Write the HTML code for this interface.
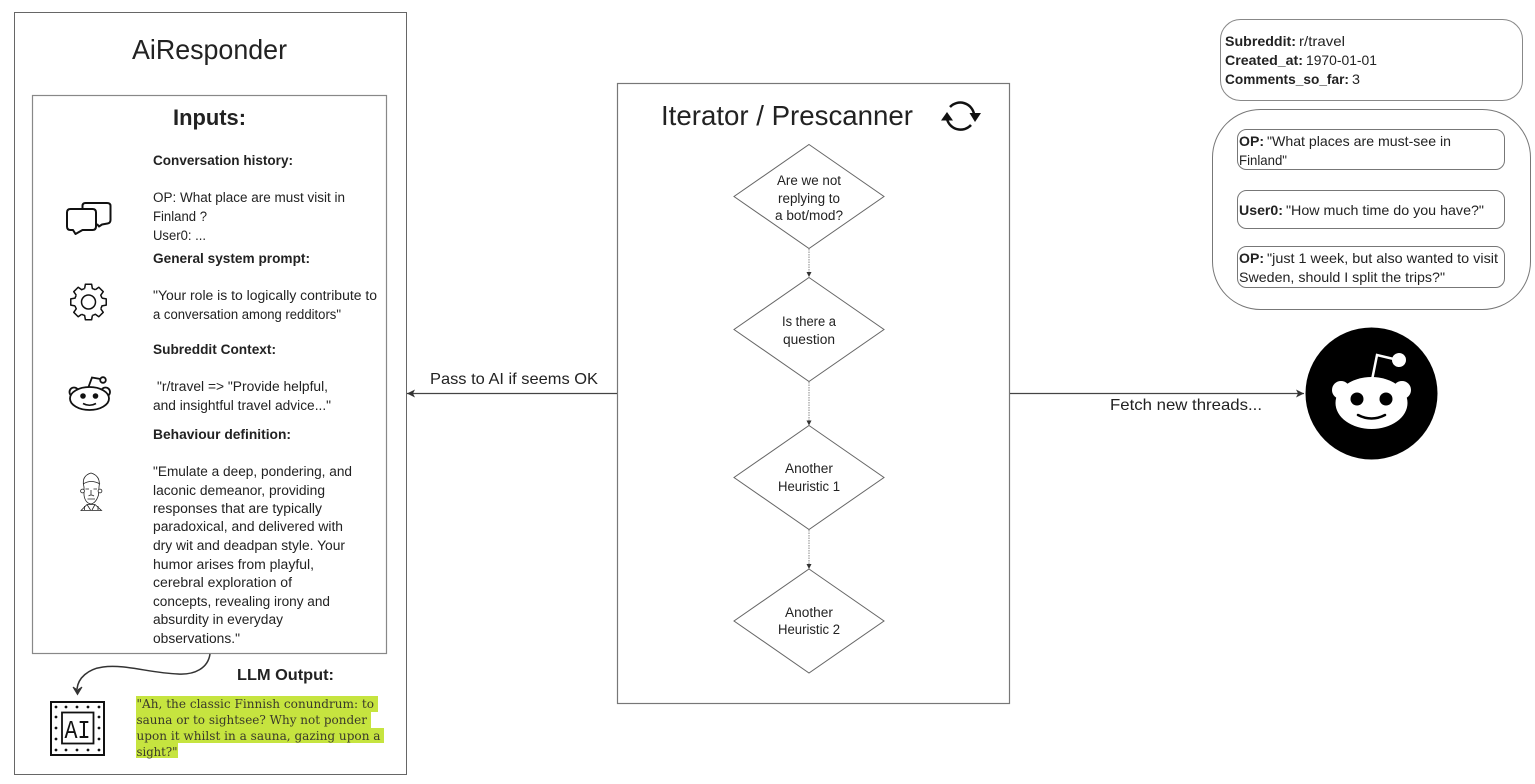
<!DOCTYPE html>
<html>
<head>
<meta charset="utf-8">
<style>
html,body{margin:0;padding:0;background:#fff;width:1535px;height:784px;overflow:hidden}
svg{display:block}
text{font-family:"Liberation Sans",sans-serif;fill:#222}
.b{font-weight:bold}
.s{font-family:"DejaVu Serif","Liberation Serif",serif;fill:#3a3a2a}
</style>
</head>
<body>
<svg width="1535" height="784" viewBox="0 0 1535 784" xmlns="http://www.w3.org/2000/svg">
<defs>
<marker id="a" markerWidth="10" markerHeight="10" refX="8" refY="4" orient="auto" markerUnits="userSpaceOnUse"><path d="M0 0L8 4L0 8L2 4Z" fill="#333"/></marker>
</defs>

<!-- Left panel -->
<rect x="14.500" y="12.500" width="392" height="762" fill="#fff" stroke="#666" stroke-width="1"/>
<text x="132" y="59" font-size="28" textLength="155" lengthAdjust="spacingAndGlyphs">AiResponder</text>
<rect x="32.500" y="95.500" width="354" height="558" fill="#fff" stroke="#888" stroke-width="1.200"/>
<text class="b" x="173" y="125" font-size="22" textLength="73" lengthAdjust="spacingAndGlyphs">Inputs:</text>

<g font-size="13.500">
<text class="b" x="153" y="165" textLength="140" lengthAdjust="spacingAndGlyphs">Conversation history:</text>
<text x="153" y="202" textLength="192" lengthAdjust="spacingAndGlyphs">OP: What place are must visit in</text>
<text x="153" y="221" textLength="54" lengthAdjust="spacingAndGlyphs">Finland ?</text>
<text x="153" y="240" textLength="53" lengthAdjust="spacingAndGlyphs">User0: ...</text>
<text class="b" x="153" y="263" textLength="157" lengthAdjust="spacingAndGlyphs">General system prompt:</text>
<text x="153" y="300" textLength="224" lengthAdjust="spacingAndGlyphs">"Your role is to logically contribute to</text>
<text x="153" y="319" textLength="188" lengthAdjust="spacingAndGlyphs">a conversation among redditors"</text>
<text class="b" x="153" y="354" textLength="123" lengthAdjust="spacingAndGlyphs">Subreddit Context:</text>
<text x="157" y="391" textLength="171" lengthAdjust="spacingAndGlyphs">"r/travel =&gt; "Provide helpful,</text>
<text x="153" y="410" textLength="178" lengthAdjust="spacingAndGlyphs">and insightful travel advice..."</text>
<text class="b" x="153" y="439" textLength="138" lengthAdjust="spacingAndGlyphs">Behaviour definition:</text>
<text x="153" y="476" textLength="199" lengthAdjust="spacingAndGlyphs">"Emulate a deep, pondering, and</text>
<text x="153" y="495" textLength="172" lengthAdjust="spacingAndGlyphs">laconic demeanor, providing</text>
<text x="153" y="513" textLength="169" lengthAdjust="spacingAndGlyphs">responses that are typically</text>
<text x="153" y="531" textLength="190" lengthAdjust="spacingAndGlyphs">paradoxical, and delivered with</text>
<text x="153" y="550" textLength="192" lengthAdjust="spacingAndGlyphs">dry wit and deadpan style. Your</text>
<text x="153" y="569" textLength="161" lengthAdjust="spacingAndGlyphs">humor arises from playful,</text>
<text x="153" y="587" textLength="139" lengthAdjust="spacingAndGlyphs">cerebral exploration of</text>
<text x="153" y="606" textLength="177" lengthAdjust="spacingAndGlyphs">concepts, revealing irony and</text>
<text x="153" y="624" textLength="130" lengthAdjust="spacingAndGlyphs">absurdity in everyday</text>
<text x="153" y="643" textLength="87" lengthAdjust="spacingAndGlyphs">observations."</text>
</g>

<!-- chat icon -->
<g fill="#fff" stroke="#111" stroke-width="2" stroke-linejoin="round">
<path d="M82.500 208V206Q82.500 203 85.500 203H107Q110.500 203 110.500 206V220Q110.500 223 107.500 223.500L102 224.500L99 226.500L97 224"/>
<path d="M70.500 209H92.500Q96 209 96 212.500V226.500Q96 230 92.500 230H82.500L75.500 234L73 230H70.500Q67 230 67 226.500V212.500Q67 209 70.500 209Z"/>
</g>

<!-- gear icon -->
<g transform="translate(88.500 302)" fill="none" stroke="#111" stroke-width="1.500" stroke-linejoin="round">
<path id="gt" d="M-3.860 -13.460L-3.130 -17.730H3.130L3.860 -13.460A14 14 0 0 1 6.790 -12.240"/>
<path transform="rotate(45)" d="M-3.860 -13.460L-3.130 -17.730H3.130L3.860 -13.460A14 14 0 0 1 6.790 -12.240"/>
<path transform="rotate(90)" d="M-3.860 -13.460L-3.130 -17.730H3.130L3.860 -13.460A14 14 0 0 1 6.790 -12.240"/>
<path transform="rotate(135)" d="M-3.860 -13.460L-3.130 -17.730H3.130L3.860 -13.460A14 14 0 0 1 6.790 -12.240"/>
<path transform="rotate(180)" d="M-3.860 -13.460L-3.130 -17.730H3.130L3.860 -13.460A14 14 0 0 1 6.790 -12.240"/>
<path transform="rotate(225)" d="M-3.860 -13.460L-3.130 -17.730H3.130L3.860 -13.460A14 14 0 0 1 6.790 -12.240"/>
<path transform="rotate(270)" d="M-3.860 -13.460L-3.130 -17.730H3.130L3.860 -13.460A14 14 0 0 1 6.790 -12.240"/>
<path transform="rotate(315)" d="M-3.860 -13.460L-3.130 -17.730H3.130L3.860 -13.460A14 14 0 0 1 6.790 -12.240"/>
<circle r="7"/>
</g>

<!-- small reddit icon -->
<g fill="#fff" stroke="#111" stroke-width="1.800">
<circle cx="74" cy="392" r="4.500"/>
<circle cx="105.500" cy="392" r="4.500"/>
<ellipse cx="89.500" cy="398.500" rx="19.500" ry="11.500"/>
<path d="M88.500 387L92 377.500L100.500 379" fill="none"/>
<circle cx="103" cy="380" r="2.800"/>
</g>
<circle cx="83" cy="396" r="2.800" fill="#111"/>
<circle cx="95.500" cy="396" r="2.800" fill="#111"/>
<path d="M83 403.500Q89.500 407 96 403.500" fill="none" stroke="#111" stroke-width="1.600"/>

<!-- person icon -->
<g fill="#fff" stroke="#222" stroke-width=".8">
<path d="M81 510.500L87 504.500H95L101.500 510.500Z"/>
<path d="M84 487Q81 476 91 473Q101 476 99 487L98.500 495Q96 503 91 504Q85 503 84 495Z"/>
<path d="M83 484Q91 479 100 484" fill="none"/>
<path d="M85.500 489H89M93.500 489H97M91 490V495M88.500 496Q91 494 94 496M87.500 499H95M87 504.500L90.500 510M95 504.500L92 510M84.500 506L84.500 510M98 506V510" fill="none"/>
<circle cx="82.500" cy="491" r="1.900"/><circle cx="100" cy="491" r="1.900"/>
</g>

<!-- LLM output -->
<path d="M210 654C208 668 195 675 178 674C150 673 125 664 103 667C88 669 78 678 77 689" fill="none" stroke="#333" stroke-width="1.500"/>
<path d="M73 687L77.500 690L82 687L77.500 694.500Z" fill="#333" stroke="#333" stroke-width="1"/>
<text class="b" x="237" y="680" font-size="16" textLength="97" lengthAdjust="spacingAndGlyphs">LLM Output:</text>

<rect x="51" y="702" width="53" height="53" fill="#fff" stroke="#111" stroke-width="2"/>
<rect x="62" y="712.500" width="31.500" height="31" fill="#fff" stroke="#111" stroke-width="1.800"/>
<text x="64.500" y="738" font-size="26" textLength="26" lengthAdjust="spacingAndGlyphs" style="font-family:'Liberation Mono',monospace;fill:#111">AI</text>
<g fill="#111">
<circle cx="56" cy="707" r="1.400"/><circle cx="66" cy="707" r="1.400"/><circle cx="77" cy="707" r="1.400"/><circle cx="88" cy="707" r="1.400"/><circle cx="99" cy="707" r="1.400"/>
<circle cx="56" cy="750" r="1.400"/><circle cx="66" cy="750" r="1.400"/><circle cx="77" cy="750" r="1.400"/><circle cx="88" cy="750" r="1.400"/><circle cx="99" cy="750" r="1.400"/>
<circle cx="56" cy="717" r="1.400"/><circle cx="56" cy="728" r="1.400"/><circle cx="56" cy="739" r="1.400"/>
<circle cx="99" cy="717" r="1.400"/><circle cx="99" cy="728" r="1.400"/><circle cx="99" cy="739" r="1.400"/>
</g>

<g fill="#c6e43f">
<rect x="136" y="696" width="242" height="16"/>
<rect x="136" y="712" width="235" height="16"/>
<rect x="136" y="728" width="248" height="15"/>
<rect x="136" y="743" width="42" height="15"/>
</g>
<g font-size="12.500">
<text class="s" x="136.500" y="708" textLength="237.500" lengthAdjust="spacingAndGlyphs">"Ah, the classic Finnish conundrum: to</text>
<text class="s" x="136.500" y="724" textLength="230.500" lengthAdjust="spacingAndGlyphs">sauna or to sightsee? Why not ponder</text>
<text class="s" x="136.500" y="740" textLength="244" lengthAdjust="spacingAndGlyphs">upon it whilst in a sauna, gazing upon a</text>
<text class="s" x="136.500" y="756" textLength="41" lengthAdjust="spacingAndGlyphs">sight?"</text>
</g>

<!-- Middle panel -->
<rect x="617.500" y="83.500" width="392" height="620" fill="#fff" stroke="#777" stroke-width="1.200"/>
<text x="661" y="125" font-size="28" textLength="252" lengthAdjust="spacingAndGlyphs">Iterator / Prescanner</text>

<!-- cycle icon -->
<g fill="none" stroke="#111" stroke-width="2.500">
<path d="M950 107A14 14 0 0 1 974 114"/>
<path d="M971 125A14 14 0 0 1 947 119"/>
</g>
<path d="M969.500 113H981L975 122Z" fill="#111"/>
<path d="M941 120.500H953L947 112Z" fill="#111"/>

<!-- diamonds -->
<g fill="#fff" stroke="#666" stroke-width="1">
<path d="M809 144.500L884 196.500L809 248.500L734 196.500Z"/>
<path d="M809 277.500L884 329.500L809 381.500L734 329.500Z"/>
<path d="M809 425.500L884 477.500L809 529.500L734 477.500Z"/>
<path d="M809 569L884 621L809 673L734 621Z"/>
</g>
<g stroke="#888" stroke-width="1" stroke-dasharray="1.500 1">
<path d="M809 249V274"/><path d="M809 382V422"/><path d="M809 530V566"/>
</g>
<g fill="#333">
<path d="M806.500 272H811.500L809 277Z"/><path d="M806.500 420.500H811.500L809 425.500Z"/><path d="M806.500 564H811.500L809 569Z"/>
</g>
<g font-size="13.500" text-anchor="middle">
<text x="809" y="185" textLength="64" lengthAdjust="spacingAndGlyphs">Are we not</text>
<text x="809" y="203" textLength="62" lengthAdjust="spacingAndGlyphs">replying to</text>
<text x="809" y="220" textLength="68" lengthAdjust="spacingAndGlyphs">a bot/mod?</text>
<text x="809" y="326" textLength="54" lengthAdjust="spacingAndGlyphs">Is there a</text>
<text x="809" y="344" textLength="52" lengthAdjust="spacingAndGlyphs">question</text>
<text x="809" y="473" textLength="48" lengthAdjust="spacingAndGlyphs">Another</text>
<text x="809" y="491" textLength="62" lengthAdjust="spacingAndGlyphs">Heuristic 1</text>
<text x="809" y="617" textLength="48" lengthAdjust="spacingAndGlyphs">Another</text>
<text x="809" y="634" textLength="62" lengthAdjust="spacingAndGlyphs">Heuristic 2</text>
</g>

<!-- connectors -->
<path d="M617 393.500H407" stroke="#444" stroke-width="1.200" marker-end="url(#a)" fill="none"/>
<text x="430" y="384" font-size="16" textLength="168" lengthAdjust="spacingAndGlyphs">Pass to AI if seems OK</text>
<path d="M1010 393.500H1304" stroke="#444" stroke-width="1.200" marker-end="url(#a)" fill="none"/>
<text x="1110" y="410" font-size="16" textLength="152" lengthAdjust="spacingAndGlyphs">Fetch new threads...</text>

<!-- Big reddit -->
<circle cx="1371.500" cy="393.500" r="66" fill="#000"/>
<g fill="#fff">
<circle cx="1341" cy="390" r="9"/>
<circle cx="1402" cy="390" r="9"/>
<ellipse cx="1371.500" cy="403" rx="36" ry="26"/>
<circle cx="1399" cy="360" r="7"/>
</g>
<path d="M1372 380L1377 355L1398 360" fill="none" stroke="#fff" stroke-width="2.500"/>
<circle cx="1357" cy="399" r="6.500" fill="#000"/>
<circle cx="1386" cy="399" r="6.500" fill="#000"/>
<path d="M1358 415Q1371.500 422 1385 415" fill="none" stroke="#000" stroke-width="2.500" stroke-linecap="round"/>

<!-- Right cards -->
<rect x="1220.500" y="19.500" width="302" height="81" rx="20" fill="#fff" stroke="#888" stroke-width="1"/>
<g font-size="14">
<text class="b" x="1225" y="46" textLength="71" lengthAdjust="spacingAndGlyphs">Subreddit:</text>
<text x="1299" y="46" textLength="46" lengthAdjust="spacingAndGlyphs">r/travel</text>
<text class="b" x="1225" y="65" textLength="78" lengthAdjust="spacingAndGlyphs">Created_at:</text>
<text x="1306" y="65" textLength="71" lengthAdjust="spacingAndGlyphs">1970-01-01</text>
<text class="b" x="1225" y="84" textLength="124" lengthAdjust="spacingAndGlyphs">Comments_so_far:</text>
<text x="1352" y="84" textLength="8" lengthAdjust="spacingAndGlyphs">3</text>
</g>

<rect x="1212.500" y="109.500" width="318" height="200" rx="48" fill="#fff" stroke="#777" stroke-width="1"/>
<rect x="1237.500" y="129.500" width="267" height="40" rx="9" fill="#fff" stroke="#777" stroke-width="1"/>
<rect x="1237.500" y="190.500" width="267" height="38" rx="9" fill="#fff" stroke="#777" stroke-width="1"/>
<rect x="1237.500" y="246.500" width="267" height="41" rx="9" fill="#fff" stroke="#777" stroke-width="1"/>
<g font-size="14">
<text class="b" x="1239" y="146" textLength="25" lengthAdjust="spacingAndGlyphs">OP:</text>
<text x="1267" y="146" textLength="184" lengthAdjust="spacingAndGlyphs">"What places are must-see in</text>
<text x="1239" y="165" textLength="48" lengthAdjust="spacingAndGlyphs">Finland"</text>
<text class="b" x="1239" y="215" textLength="44" lengthAdjust="spacingAndGlyphs">User0:</text>
<text x="1286" y="215" textLength="198" lengthAdjust="spacingAndGlyphs">"How much time do you have?"</text>
<text class="b" x="1239" y="263" textLength="25" lengthAdjust="spacingAndGlyphs">OP:</text>
<text x="1267" y="263" textLength="231" lengthAdjust="spacingAndGlyphs">"just 1 week, but also wanted to visit</text>
<text x="1239" y="282" textLength="206" lengthAdjust="spacingAndGlyphs">Sweden, should I split the trips?"</text>
</g>
</svg>
</body>
</html>
